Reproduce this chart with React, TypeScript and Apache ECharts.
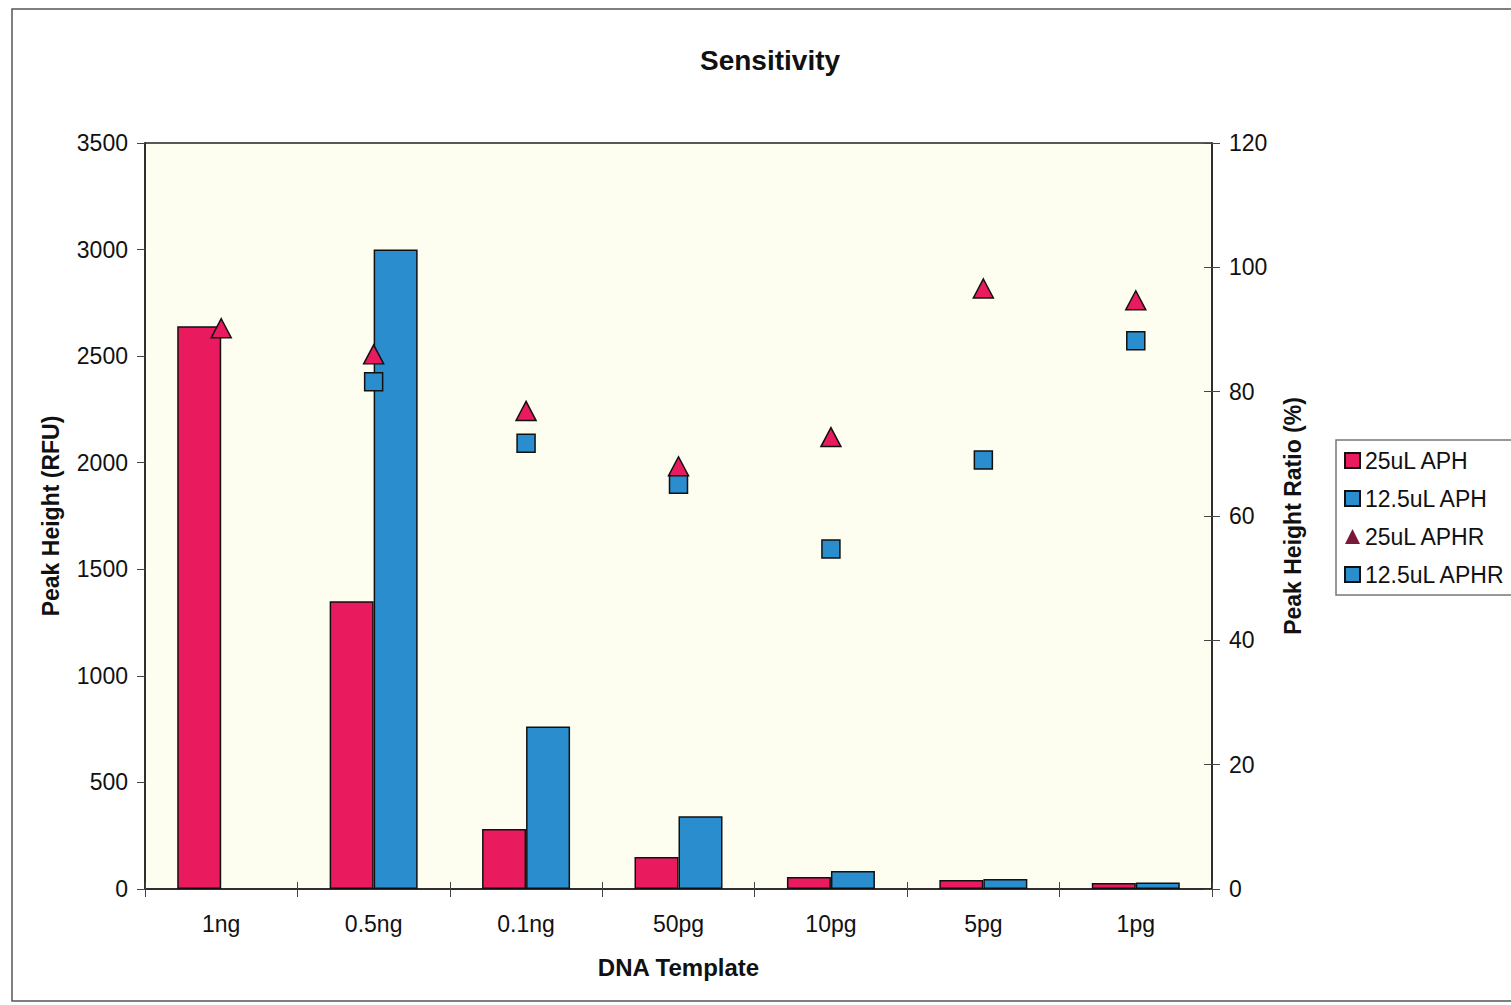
import React, { useEffect, useRef } from "react";
import * as echarts from "echarts";

const categories = ["1ng", "0.5ng", "0.1ng", "50pg", "10pg", "5pg", "1pg"];
const aph25 = [2640, 1350, 282, 150, 56, 42, 28];
const aph125 = [null, 3000, 762, 341, 84, 47, 30];
const aphr25 = [90.2, 86.0, 76.9, 68.0, 72.7, 96.6, 94.7];
const aphr125 = [null, 81.6, 71.7, 65.1, 54.7, 69.0, 88.2];
const leftTicks = { min: 0, max: 3500, interval: 500 };
const rightTicks = { min: 0, max: 120, interval: 20 };

const RED = "#EA1A5E";
const BLUE = "#2A8DCE";
const MAROON = "#7A1A3A";
const FONT = "Liberation Sans, Arial, sans-serif";

export default function App() {
  const ref = useRef<HTMLDivElement>(null);
  useEffect(() => {
    if (!ref.current) return;
    const chart = echarts.init(ref.current, undefined, { renderer: "svg" });
    const axisLine = { show: true, lineStyle: { color: "#222", width: 1.5 } };
    const label = { color: "#111", fontSize: 23, fontFamily: FONT };
    const name = { color: "#111", fontSize: 23, fontWeight: "bold", fontFamily: FONT };
    chart.setOption({
      animation: false,
      backgroundColor: "#fff",
      textStyle: { fontFamily: FONT },
      title: {
        text: "Sensitivity",
        left: 695,
        top: 41,
        textStyle: { fontSize: 28, fontWeight: "bold", color: "#111", fontFamily: FONT },
      },
      graphic: [
        {
          type: "rect",
          shape: { x: 12, y: 9, width: 1560, height: 992 },
          style: { fill: "none", stroke: "#555", lineWidth: 1.5 },
          silent: true,
        },
      ],
      grid: {
        left: 145,
        right: 299,
        top: 143,
        bottom: 116,
        show: true,
        backgroundColor: "#FEFEF0",
        borderColor: "#222",
        borderWidth: 1.5,
      },
      legend: {
        orient: "vertical",
        left: 1336,
        top: 440,
        padding: [9, 12, 9, 8],
        itemGap: 15,
        itemWidth: 15,
        itemHeight: 15,
        borderColor: "#777",
        borderWidth: 1.5,
        backgroundColor: "#fff",
        textStyle: { fontSize: 23, color: "#111", fontFamily: FONT },
        data: [
          { name: "25uL APH", icon: "rect" },
          { name: "12.5uL APH", icon: "rect" },
          { name: "25uL APHR", icon: "triangle", itemStyle: { color: MAROON, borderWidth: 0 } },
          { name: "12.5uL APHR", icon: "rect" },
        ],
      },
      xAxis: [
        {
          type: "category",
          data: categories,
          boundaryGap: true,
          name: "DNA Template",
          nameLocation: "middle",
          nameGap: 66,
          nameTextStyle: { ...name, fontSize: 24 },
          axisLine,
          axisTick: { show: true, length: 8, lineStyle: { color: "#444" } },
          axisLabel: { ...label, margin: 23 },
        },
        {
          type: "category",
          data: categories,
          position: "bottom",
          boundaryGap: true,
          axisLine: { show: false },
          axisTick: { show: true, inside: true, length: 7, lineStyle: { color: "#444" } },
          axisLabel: { show: false },
        },
      ],
      yAxis: [
        {
          type: "value",
          ...leftTicks,
          position: "left",
          name: "Peak Height (RFU)",
          nameLocation: "middle",
          nameRotate: 90,
          nameGap: 83,
          nameTextStyle: name,
          axisLine,
          axisTick: { show: true, length: 8, lineStyle: { color: "#444" } },
          axisLabel: { ...label, margin: 17, formatter: (v: number) => String(v) },
          splitLine: { show: false },
        },
        {
          type: "value",
          ...rightTicks,
          position: "right",
          name: "Peak Height Ratio (%)",
          nameLocation: "middle",
          nameRotate: 90,
          nameGap: 69,
          nameTextStyle: name,
          axisLine,
          axisTick: { show: true, length: 8, lineStyle: { color: "#444" } },
          axisLabel: { ...label, margin: 17, formatter: (v: number) => String(v) },
          splitLine: { show: false },
        },
        {
          type: "value",
          ...rightTicks,
          position: "right",
          axisLine: { show: false },
          axisTick: { show: true, inside: true, length: 8, lineStyle: { color: "#444" } },
          axisLabel: { show: false },
          splitLine: { show: false },
        },
      ],
      series: [
        {
          name: "25uL APH",
          type: "bar",
          data: aph25,
          barWidth: 44,
          barGap: "0%",
          itemStyle: { color: RED, borderColor: "#111", borderWidth: 1.5 },
          z: 2,
        },
        {
          name: "12.5uL APH",
          type: "bar",
          data: aph125,
          barWidth: 44,
          barGap: "0%",
          itemStyle: { color: BLUE, borderColor: "#111", borderWidth: 1.5 },
          z: 2,
        },
        {
          name: "12.5uL APHR",
          type: "scatter",
          yAxisIndex: 1,
          data: aphr125,
          symbol: "rect",
          symbolSize: [18, 18],
          itemStyle: { color: BLUE, borderColor: "#111", borderWidth: 1.5, opacity: 1 },
          z: 3,
        },
        {
          name: "25uL APHR",
          type: "scatter",
          yAxisIndex: 1,
          data: aphr25,
          symbol: "triangle",
          symbolSize: [20, 19],
          itemStyle: { color: RED, borderColor: "#111", borderWidth: 1.5, opacity: 1 },
          z: 4,
        },
      ],
    });
    return () => chart.dispose();
  }, []);
  return (
    <div
      ref={ref}
      style={{ position: "fixed", left: 0, top: 0, width: 1511, height: 1005 }}
    />
  );
}
